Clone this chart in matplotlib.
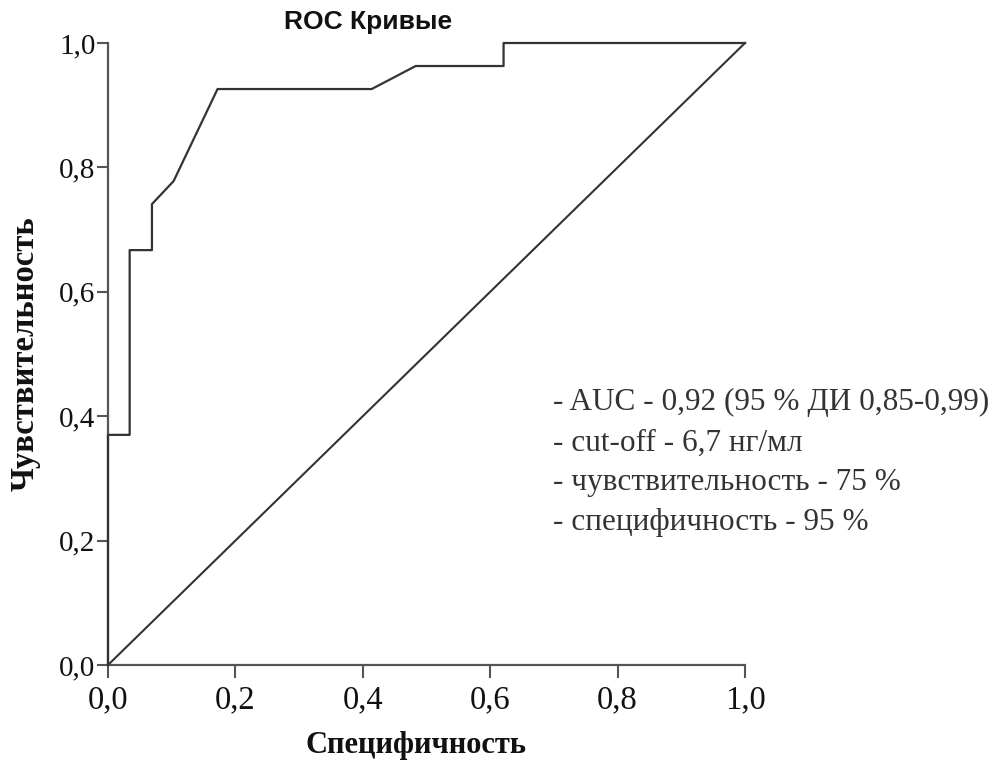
import matplotlib
matplotlib.use("Agg")
import matplotlib.pyplot as plt

# точки ROC-кривой (1 - специфичность, чувствительность)
fpr = [0.0, 0.0, 0.034, 0.034, 0.069, 0.069, 0.103, 0.172, 0.414, 0.483, 0.621, 0.621, 1.0]
tpr = [0.0, 0.370, 0.370, 0.667, 0.667, 0.741, 0.778, 0.926, 0.926, 0.963, 0.963, 1.0, 1.0]
ref_line = [0.0, 1.0]

ticks = [0.0, 0.2, 0.4, 0.6, 0.8, 1.0]
tick_labels = ["0,0", "0,2", "0,4", "0,6", "0,8", "1,0"]

notes = [
    "- AUC - 0,92 (95 % ДИ 0,85-0,99)",
    "- cut-off - 6,7 нг/мл",
    "- чувствительность - 75 %",
    "- специфичность - 95 %",
]

W, H = 1007, 762
fig = plt.figure(figsize=(W / 100, H / 100), dpi=100, facecolor="white")
ax = fig.add_axes([108 / W, 1 - 665 / H, (745 - 108) / W, (665 - 43) / H])

serif = "Liberation Serif"
line_c = "#333333"
axis_c = "#555555"

ax.plot(ref_line, ref_line, color=line_c, lw=1.5, clip_on=False, zorder=3)
ax.plot(fpr, tpr, color=line_c, lw=1.6, clip_on=False, zorder=4)

ax.set_xlim(0, 1)
ax.set_ylim(0, 1)
ax.set_xticks(ticks)
ax.set_xticklabels(tick_labels)
ax.set_yticks(ticks)
ax.set_yticklabels(tick_labels)

for s in ["top", "right"]:
    ax.spines[s].set_visible(False)
for s in ["left", "bottom"]:
    ax.spines[s].set_color(axis_c)
    ax.spines[s].set_linewidth(1.6)

ax.tick_params(axis="x", length=9, width=1.5, color=axis_c, pad=5)
ax.tick_params(axis="y", length=8, width=1.5, color=axis_c, pad=1)
for lab in ax.get_xticklabels():
    lab.set_fontfamily(serif)
    lab.set_fontsize(23.5)
    lab.set_color("#111111")
for lab in ax.get_yticklabels():
    lab.set_fontfamily(serif)
    lab.set_fontsize(21)
    lab.set_color("#111111")

# подписи осей
fig.text(416 / W, 1 - 745 / H, "Специфичность", family=serif, fontweight="bold",
         fontsize=22, ha="center", va="center", color="#111111")
fig.text(25 / W, 1 - 354 / H, "Чувствительность", family=serif, fontweight="bold",
         fontsize=23.5, ha="center", va="center", rotation=90, color="#111111")

# заголовок
fig.text(368 / W, 1 - 22 / H, "ROC Кривые", family="Liberation Sans", fontweight="bold",
         fontsize=19, ha="center", va="center", color="#111111")

# показатели модели
baselines = [410, 451, 490, 530]
for txt, yb in zip(notes, baselines):
    fig.text(553 / W, 1 - yb / H, txt, family=serif, fontsize=22.5,
             ha="left", va="baseline", color="#333333")

fig.savefig("out.png", dpi=100, facecolor="white")
